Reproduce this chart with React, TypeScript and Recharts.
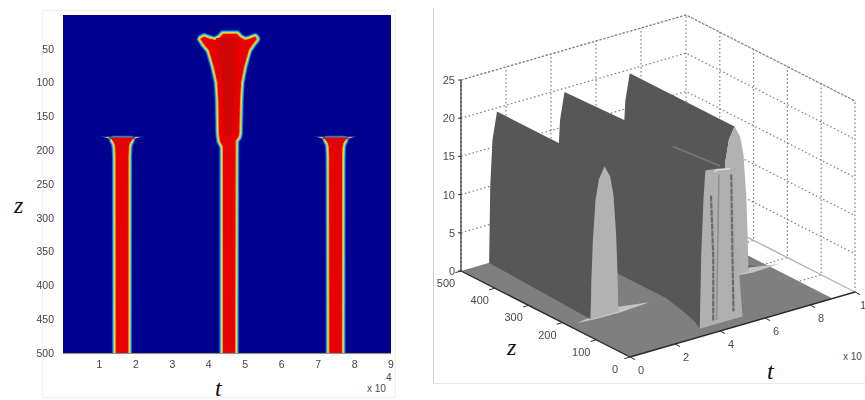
import React from "react";
import { ScatterChart, Scatter, XAxis, YAxis, CartesianGrid } from "recharts";

type P = { x: number; y: number; label?: string };

// left panel: pulse outlines, t in 10^4 units, z in metres
const zTicks = [50, 100, 150, 200, 250, 300, 350, 400, 450, 500];
const tTicks = [1, 2, 3, 4, 5, 6, 7, 8, 9];
const sideCentres = [1.62, 7.48];
const sideZ = [185, 187, 190, 196, 210, 510];
const sideHalf = [0.24, 0.22, 0.19, 0.17, 0.16, 0.155];
// flare at the top of the side pulses, outer contour then yellow then red
const flareZ = [180, 181, 183, 188, 196];
const flareHalf = [0.6, 0.45, 0.36, 0.3, 0.27];
const flareYellowZ = [180.5, 182, 185, 190];
const flareYellowHalf = [0.5, 0.38, 0.3, 0.25];
const flareRedZ = [181, 184, 190, 198];
const flareRedHalf = [0.38, 0.28, 0.2, 0.16];
const centreRightT = [4.39, 4.775, 4.857, 4.995, 5.13, 5.27, 5.3, 5.19, 5.08, 4.95, 4.87, 4.84, 4.82, 4.8, 4.72, 4.706];
const centreRightZ = [29, 29, 34, 38, 36, 33, 35.5, 43, 52, 77, 100, 126, 175, 180, 186, 510];
const centreLeftT = [4.405, 4.405, 4.32, 4.295, 4.28, 4.25, 4.157, 4.02, 3.88, 3.79, 3.87, 4.03, 4.17, 4.31];
const centreLeftZ = [510, 195, 186, 175, 126, 100, 77, 52, 43, 35.5, 33, 36, 38, 34];
const coreT = [4.2, 4.75, 4.72, 4.68, 4.44, 4.38];
const coreZ = [34, 34, 100, 178, 178, 100];

// colour bands from the outer edge of the pulse to the red core
const bandColors = ["#0a6cf0", "#30d8c8", "#e8e840", "#ff9000", "#e60000"];
const bandWidths = [8.5, 6.6, 4.8, 3, 1];

// right panel: surface read as t, z, u
const ridgeCentres = [7.5, 4.6, 1.6];
const ridgeFrontZ = [190, 30, 182];
const capOffsets = [-0.62, -0.58, -0.52, -0.4, -0.25, 0, 0.25, 0.4, 0.52, 0.58, 0.62];
const capHeights = [0, 5, 10, 15.4, 18, 19.5, 18, 15.4, 10, 5, 0];
const backOffsets = [-0.35, -0.3, -0.2, 0];
const backHeights = [0, 10, 16, 19.5];
const midEdgeT = [3.55, 3.8, 4.0, 4.3, 4.3];
const midEdgeZ = [30, 60, 100, 180, 500];
const midCapT = [3.55, 3.62, 3.72, 3.8, 4.3, 4.8, 5.0, 5.1, 5.3, 5.45];
const midCapU = [0, 10, 17, 20.5, 20.3, 19.9, 19.5, 14, 6, 0];
const streakA = [[4.05, 30, 17], [4.15, 30, 9], [4.15, 30, 0.5]];
const streakB = [[4.95, 30, 19], [5.0, 30, 9], [5.05, 30, 1]];
const streakC = [[4.4, 30, 19.5], [4.35, 30, 10], [4.3, 30, 0.5]];
const uGrid = [5, 10, 15, 20, 25];
const tGrid = [2, 4, 6, 8];
const zGrid = [100, 200, 300, 400];
const uLabels = [0, 5, 10, 15, 20, 25];
const zLabels = [0, 100, 200, 300, 400, 500];
const tLabels = [0, 2, 4, 6, 8, 10];

const gridColor = "#7c7c7c";
const gridDash = "1.5 2.5";

const noDot = () => <g />;

// 3D view of the right panel into page pixels
const project = (t: number, z: number, u: number): P => ({
  x: 630 + t * 22.5 - z * 0.338,
  y: 357 - t * 6.5 - z * 0.172 - u * 7.64,
});
const line3 = (pts: number[][]) => pts.map((p) => project(p[0], p[1], p[2]));
const toPath = (pts: { x: number; y: number }[]) => pts.map((p) => `${p.x},${p.y}`).join(" ");

function fillShape(key: string, data: P[], fill: string, stroke = "none", strokeWidth = 0) {
  return (
    <Scatter
      key={key}
      data={data}
      isAnimationActive={false}
      shape={noDot}
      line={(p: any) => (
        <polygon points={toPath(p.points)} fill={fill} stroke={stroke} strokeWidth={strokeWidth} strokeLinejoin="round" />
      )}
    />
  );
}

function strokeShape(key: string, data: P[], stroke: string, width = 1, dash?: string) {
  return (
    <Scatter
      key={key}
      data={data}
      isAnimationActive={false}
      shape={noDot}
      line={(p: any) => (
        <polyline points={toPath(p.points)} fill="none" stroke={stroke} strokeWidth={width} strokeDasharray={dash} />
      )}
    />
  );
}

function textMarks(key: string, data: P[], size: number, anchor = "middle") {
  return (
    <Scatter
      key={key}
      data={data}
      isAnimationActive={false}
      shape={(p: any) => (
        <text x={p.cx} y={p.cy} textAnchor={anchor} dominantBaseline="central" fontSize={size} fontFamily="Liberation Sans" fill="#4a4a4a">
          {p.payload.label}
        </text>
      )}
    />
  );
}

function bandedPulse(key: string, data: P[]) {
  return bandColors.map((c, i) => fillShape(`${key}-${i}`, data, c, c, bandWidths[i]));
}

function mirrored(centre: number, zs: number[], half: number[]) {
  const right = zs.map((z, i) => ({ x: centre + half[i], y: z }));
  const left = zs.map((z, i) => ({ x: centre - half[i], y: z })).reverse();
  return [...left, ...right];
}

function sidePulse(centre: number) {
  return [
    fillShape(`flare-${centre}`, mirrored(centre, flareZ, flareHalf), "#30c8d8"),
    fillShape(`flare-y-${centre}`, mirrored(centre, flareYellowZ, flareYellowHalf), "#e8e060"),
    ...bandedPulse(`side-${centre}`, [...mirrored(centre, sideZ, sideHalf)]),
    fillShape(`flare-r-${centre}`, mirrored(centre, flareRedZ, flareRedHalf), "#e00404"),
  ];
}

function HeatPanel() {
  const right = centreRightT.map((t, i) => ({ x: t, y: centreRightZ[i] }));
  const left = centreLeftT.map((t, i) => ({ x: t, y: centreLeftZ[i] }));
  const core = coreT.map((t, i) => ({ x: t, y: coreZ[i] }));
  return (
    <ScatterChart width={430} height={400} margin={{ top: 15, right: 39, bottom: 17, left: 23 }}>
      <CartesianGrid horizontal={false} vertical={false} fill="#00008f" />
      <XAxis
        type="number"
        dataKey="x"
        domain={[0, 9]}
        ticks={tTicks}
        height={30}
        allowDataOverflow
        tickLine={false}
        axisLine={{ stroke: "#223" }}
        tick={{ fontSize: 10.5, fill: "#444", fontFamily: "Liberation Sans" }}
      />
      <YAxis
        type="number"
        dataKey="y"
        reversed
        domain={[0, 500]}
        ticks={zTicks}
        width={40}
        allowDataOverflow
        tickLine={false}
        axisLine={false}
        tickMargin={3}
        tick={{ fontSize: 10.5, fill: "#444", fontFamily: "Liberation Sans" }}
      />
      {sideCentres.map((c) => sidePulse(c))}
      {bandedPulse("centre", [...right, ...left])}
      {fillShape("centre-core", core, "#d00505")}
    </ScatterChart>
  );
}

function capOutline(centre: number, z: number) {
  return capOffsets.map((o, i) => project(centre + o, z, capHeights[i]));
}

function wallOutline(centre: number, front: number) {
  const half = Math.floor(capOffsets.length / 2);
  const frontEdge = capOffsets.slice(0, half + 1).map((o, i) => project(centre + o, front, capHeights[i]));
  const back = backOffsets.map((o, i) => project(centre + o, 500, backHeights[i]));
  return [...back, ...[...frontEdge].reverse()];
}

function SurfacePanel() {
  const gridLines: React.ReactNode[] = [];
  uGrid.forEach((u) => {
    gridLines.push(strokeShape(`gu-${u}`, line3([[0, 500, u], [10, 500, u], [10, 0, u]]), gridColor, 1.2, gridDash));
  });
  tGrid.forEach((t) => {
    gridLines.push(strokeShape(`gt-${t}`, line3([[t, 0, 0], [t, 500, 0], [t, 500, 25]]), gridColor, 1.2, gridDash));
  });
  zGrid.forEach((z) => {
    gridLines.push(strokeShape(`gz-${z}`, line3([[0, z, 0], [10, z, 0], [10, z, 25]]), gridColor, 1.2, gridDash));
  });

  const midWall = [
    ...midEdgeT.map((t, i) => project(t, midEdgeZ[i], 0)),
    ...backOffsets.slice(1).map((o, i) => project(4.6 + o, 500, backHeights[i + 1])),
    project(4.6, 60, 20.3),
    project(3.8, 30, 20.5),
  ];

  return (
    <ScatterChart width={435} height={400} margin={{ top: 0, right: 0, bottom: 0, left: 0 }}>
      <XAxis type="number" dataKey="x" domain={[430, 865]} hide allowDataOverflow />
      <YAxis type="number" dataKey="y" domain={[0, 400]} reversed hide allowDataOverflow />

      {gridLines}
      {strokeShape("edge-back", line3([[0, 500, 0], [0, 500, 25], [10, 500, 25]]), gridColor, 1.2, gridDash)}
      {strokeShape("edge-corner", line3([[10, 500, 0], [10, 500, 25]]), gridColor, 1.2, gridDash)}
      {strokeShape("edge-right", line3([[10, 0, 0], [10, 0, 25], [10, 500, 25]]), gridColor, 1.2, gridDash)}
      {strokeShape("base-right", line3([[10, 0, 0], [10, 500, 0]]), "#b4b4b4", 1.4)}

      {fillShape("floor", line3([[0, 0, 0], [9, 0, 0], [9, 500, 0], [0, 500, 0]]), "#7f7f7f")}

      {fillShape("shade-3", line3([[8, 190, 0], [8.8, 190, 0], [8.1, 240, 0]]), "#636363")}
      {fillShape("fin-3", line3([[7.2, 190, 0], [8.2, 190, 0.5], [9.4, 185, 0], [8.2, 182, 0]]), "#c4c4c4")}
      {fillShape("wall-3", wallOutline(ridgeCentres[0], ridgeFrontZ[0]), "#575757")}
      {fillShape("cap-3", capOutline(ridgeCentres[0], ridgeFrontZ[0]), "#b2b2b2")}

      {fillShape("wall-2", midWall, "#575757")}
      {fillShape("cap-2", midCapT.map((t, i) => project(t, ridgeFrontZ[1], midCapU[i])), "#b0b0b0")}
      {strokeShape("streak-a", line3(streakA), "#6c6c6c", 2.2, "6 1")}
      {strokeShape("streak-b", line3(streakB), "#6c6c6c", 2.2, "6 1")}
      {strokeShape("streak-c", line3(streakC), "#8a8a8a", 1.4)}
      {strokeShape("cap-top", line3([[4.2, 30, 20], [4.4, 34, 20], [4.9, 30, 19.8]]), "#e0e0e0", 1.4)}
      {strokeShape("mid-crest", line3([[4.6, 180, 19.6], [4.6, 40, 20.2]]), "#727272", 2)}

      {fillShape("fin-1", line3([[0.4, 182, 0], [1.2, 182, 0.4], [2.2, 182, 0.6], [3.6, 182, 0], [2.2, 176, 0], [1.2, 177, 0]]), "#c4c4c4")}
      {fillShape("wall-1", wallOutline(ridgeCentres[2], ridgeFrontZ[2]), "#575757")}
      {fillShape("cap-1", capOutline(ridgeCentres[2], ridgeFrontZ[2]), "#b2b2b2")}

      {strokeShape("axis-u", line3([[0, 500, 0], [0, 500, 25]]), "#2a2a2a", 1.2)}
      {strokeShape("axis-z", line3([[0, 500, 0], [0, 0, 0]]), "#2a2a2a", 1.4)}
      {strokeShape("axis-t", line3([[0, 0, 0], [10, 0, 0]]), "#2a2a2a", 1.4)}
      {uLabels.map((u) => strokeShape(`tu-${u}`, [project(0, 500, u), { ...project(0, 500, u), x: 458 }], "#2a2a2a", 1))}
      {zLabels.map((z) => strokeShape(`tz-${z}`, [project(0, z, 0), project(-0.25, z, 0)], "#2a2a2a", 1))}
      {tLabels.map((t) => strokeShape(`tt-${t}`, [project(t, 0, 0), project(t, -15, 0)], "#2a2a2a", 1))}

      {textMarks("labels-u", uLabels.map((u) => ({ ...project(0, 500, u), x: 455, label: String(u) })), 11, "end")}
      {textMarks("labels-z", zLabels.map((z) => {
        const p = project(0, z, 0);
        return { x: p.x - 15, y: p.y + 12, label: String(z) };
      }), 11)}
      {textMarks("labels-t", tLabels.map((t) => {
        const p = project(t, 0, 0);
        return { x: p.x + 11, y: p.y + 13, label: String(t) };
      }), 11)}
    </ScatterChart>
  );
}

const symbol: React.CSSProperties = {
  position: "absolute",
  fontFamily: "Liberation Serif",
  fontStyle: "italic",
  fontSize: 24,
  lineHeight: "24px",
  color: "#111",
};
const small: React.CSSProperties = {
  position: "absolute",
  fontFamily: "Liberation Sans",
  fontSize: 10,
  lineHeight: "12px",
  color: "#4a4a4a",
};

export default function App() {
  return (
    <div style={{ position: "absolute", left: 0, top: 0, width: 865, height: 400, overflow: "hidden", background: "#fff" }}>
      <div style={{ position: "absolute", left: 42, top: 10, width: 354, height: 388, border: "1px solid #f0f0f0", boxSizing: "border-box" }} />
      <div style={{ position: "absolute", left: 433, top: 8, width: 432, height: 376, borderLeft: "1px solid #d0d0d0", borderBottom: "1px solid #e8e8e8", boxSizing: "border-box" }} />
      <div style={{ position: "absolute", left: 0, top: 0, filter: "blur(0.5px)" }}>
        <HeatPanel />
      </div>
      <div style={{ position: "absolute", left: 430, top: 0, filter: "blur(0.5px)" }}>
        <SurfacePanel />
      </div>
      <div style={{ ...symbol, left: 14, top: 193 }}>z</div>
      <div style={{ ...symbol, left: 215, top: 376 }}>t</div>
      <div style={{ ...small, left: 367, top: 383 }}>x 10</div>
      <div style={{ ...small, left: 386, top: 372 }}>4</div>
      <div style={{ ...symbol, left: 507, top: 335 }}>z</div>
      <div style={{ ...symbol, left: 767, top: 359 }}>t</div>
      <div style={{ ...small, left: 843, top: 351 }}>x 10</div>
    </div>
  );
}
